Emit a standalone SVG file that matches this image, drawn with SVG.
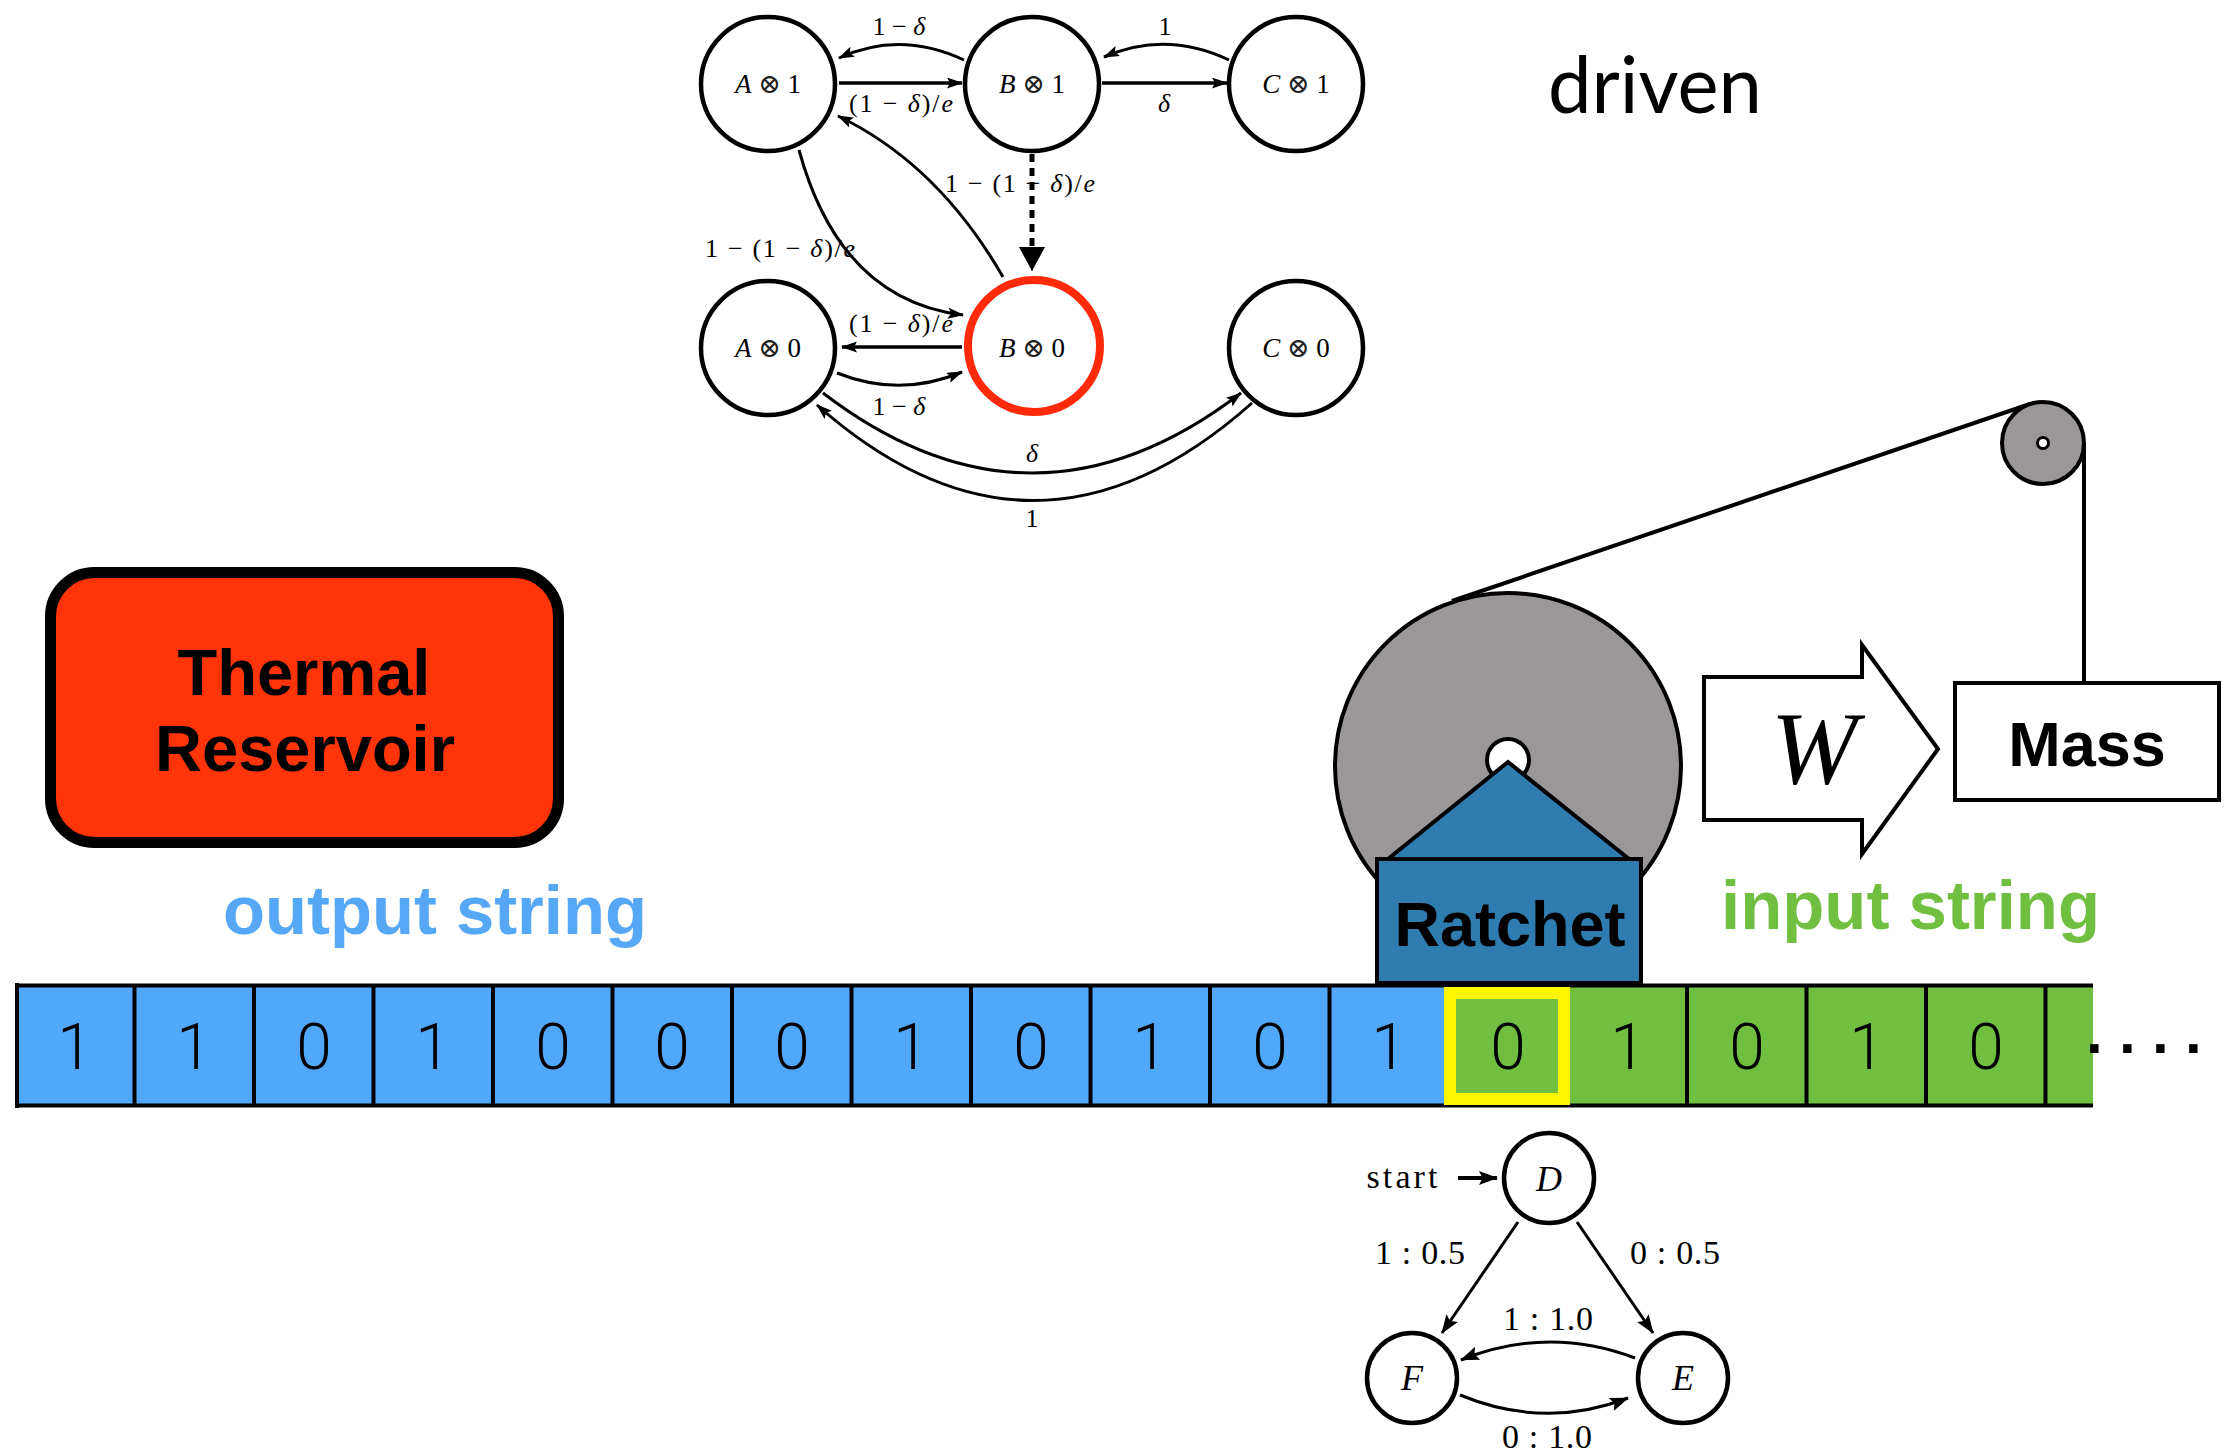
<svg xmlns="http://www.w3.org/2000/svg" width="2225" height="1451" viewBox="0 0 2225 1451">
  <defs>
    <style>
      .node { fill: #ffffff; stroke: #000000; stroke-width: 4.5; }
      .node-hot { fill: #ffffff; stroke: #ff2a0a; stroke-width: 8; }
      .math { font-family: "Liberation Serif", "DejaVu Serif", serif; fill: #000000; }
      .it { font-style: italic; }
      .otimes { font-family: "DejaVu Sans", "DejaVu Serif", sans-serif; font-weight: 200; fill: #222222; }
      .edge { fill: none; stroke: #000000; stroke-width: 3; }
      .edge-s { fill: none; stroke: #000000; stroke-width: 3.5; }
      .bold { font-family: "Liberation Sans", Arial, sans-serif; font-weight: bold; }
      .digit { font-family: Roboto, "Liberation Sans", sans-serif; font-weight: 300; font-size: 64px; fill: #000000; text-anchor: middle; }
      .cellline { stroke: #000000; stroke-width: 4; }
      .mech { stroke: #000000; stroke-width: 4; }
    </style>
    <marker id="tip" markerUnits="userSpaceOnUse" viewBox="0 0 16 11" refX="15" refY="5.5" markerWidth="16" markerHeight="11" orient="auto">
      <path d="M0,0 L16,5.5 L0,11 L3,5.5 z" fill="#000000"/>
    </marker>
    <marker id="tipbig" markerUnits="userSpaceOnUse" viewBox="0 0 24 26" refX="24" refY="13" markerWidth="24" markerHeight="26" orient="auto">
      <path d="M0,0 L24,13 L0,26 z" fill="#000000"/>
    </marker>
    <marker id="tipfsm" markerUnits="userSpaceOnUse" viewBox="0 0 19 14" refX="18" refY="7" markerWidth="19" markerHeight="14" orient="auto">
      <path d="M0,0 L19,7 L0,14 L3.5,7 z" fill="#000000"/>
    </marker>
  </defs>

  <rect x="0" y="0" width="2225" height="1451" fill="#ffffff"/>

  <!-- ratchet state machine: connectors -->
  <g id="ratchet-edges">
    <path class="edge" d="M964,60 Q900,30 839,58" marker-end="url(#tip)"/>
    <path class="edge-s" d="M839,83 L962,83" marker-end="url(#tip)"/>
    <path class="edge" d="M1229,60 Q1166,30 1104,57" marker-end="url(#tip)"/>
    <path class="edge-s" d="M1102,83 L1227,83" marker-end="url(#tip)"/>
    <path fill="none" stroke="#000000" stroke-width="5" stroke-dasharray="8 6" d="M1032,154 L1032,248"/>
    <path fill="none" stroke="#000000" stroke-width="1" d="M1032,247 L1032,271" marker-end="url(#tipbig)"/>
    <path class="edge" d="M1003,277 Q938,164 838,116" marker-end="url(#tip)"/>
    <path class="edge" d="M799,150 Q840,300 963,315" marker-end="url(#tip)"/>
    <path class="edge-s" d="M962,347 L842,347" marker-end="url(#tip)"/>
    <path class="edge" d="M837,373 Q900,398 962,372" marker-end="url(#tip)"/>
    <path class="edge" d="M823,393 Q1032,553 1241,393" marker-end="url(#tip)"/>
    <path class="edge" d="M1252,403 Q1034,597 817,405" marker-end="url(#tip)"/>
  </g>

  <!-- ratchet state machine: transition labels -->
  <g id="ratchet-edge-labels" class="math" font-size="26" text-anchor="middle">
    <text x="899" y="35">1 − <tspan class="it">δ</tspan></text>
    <text x="901" y="112" textLength="104" lengthAdjust="spacing">(1 − <tspan class="it">δ</tspan>)/<tspan class="it">e</tspan></text>
    <text x="1165" y="35">1</text>
    <text x="1164" y="112" class="it">δ</text>
    <text x="1020" y="192" textLength="150" lengthAdjust="spacing">1 − (1 − <tspan class="it">δ</tspan>)/<tspan class="it">e</tspan></text>
    <text x="780" y="257" textLength="150" lengthAdjust="spacing">1 − (1 − <tspan class="it">δ</tspan>)/<tspan class="it">e</tspan></text>
    <text x="901" y="332" textLength="104" lengthAdjust="spacing">(1 − <tspan class="it">δ</tspan>)/<tspan class="it">e</tspan></text>
    <text x="899" y="415">1 − <tspan class="it">δ</tspan></text>
    <text x="1032" y="462" class="it">δ</text>
    <text x="1032" y="527">1</text>
  </g>

  <!-- ratchet state machine: nodes -->
  <g id="node-A1">
    <circle class="node" cx="768" cy="84" r="67"/>
    <text class="math" x="768" y="93" font-size="27" text-anchor="middle"><tspan class="it">A</tspan> <tspan class="otimes">⊗</tspan> 1</text>
  </g>
  <g id="node-B1">
    <circle class="node" cx="1032" cy="84" r="67"/>
    <text class="math" x="1032" y="93" font-size="27" text-anchor="middle"><tspan class="it">B</tspan> <tspan class="otimes">⊗</tspan> 1</text>
  </g>
  <g id="node-C1">
    <circle class="node" cx="1296" cy="84" r="67"/>
    <text class="math" x="1296" y="93" font-size="27" text-anchor="middle"><tspan class="it">C</tspan> <tspan class="otimes">⊗</tspan> 1</text>
  </g>
  <g id="node-A0">
    <circle class="node" cx="768" cy="348" r="67"/>
    <text class="math" x="768" y="357" font-size="27" text-anchor="middle"><tspan class="it">A</tspan> <tspan class="otimes">⊗</tspan> 0</text>
  </g>
  <g id="node-B0">
    <circle class="node-hot" cx="1034" cy="346" r="66"/>
    <text class="math" x="1032" y="357" font-size="27" text-anchor="middle"><tspan class="it">B</tspan> <tspan class="otimes">⊗</tspan> 0</text>
  </g>
  <g id="node-C0">
    <circle class="node" cx="1296" cy="348" r="67"/>
    <text class="math" x="1296" y="357" font-size="27" text-anchor="middle"><tspan class="it">C</tspan> <tspan class="otimes">⊗</tspan> 0</text>
  </g>

  <text id="title" x="1548" y="113" font-family="Lato, 'Noto Sans', sans-serif" font-size="80" textLength="214" lengthAdjust="spacingAndGlyphs" fill="#000000">driven</text>

  <!-- heat bath -->
  <g id="thermal-reservoir">
    <rect x="50.5" y="572.5" width="508" height="270" rx="44" ry="44" fill="#ff3408" stroke="#000000" stroke-width="11"/>
    <text class="bold" x="304" y="695" font-size="65" text-anchor="middle">Thermal</text>
    <text class="bold" x="305" y="771" font-size="65" text-anchor="middle">Reservoir</text>
  </g>

  <text id="output-label" class="bold" x="223" y="934" font-size="69" fill="#56a8f7" textLength="424" lengthAdjust="spacingAndGlyphs">output string</text>
  <text id="input-label" class="bold" x="1721" y="929" font-size="69" fill="#70bf41" textLength="379" lengthAdjust="spacingAndGlyphs">input string</text>

  <!-- work arrow -->
  <g id="work">
    <path d="M1704,677 L1862,677 L1862,645 L1938,749 L1862,854 L1862,820 L1704,820 Z" fill="#ffffff" stroke="#000000" stroke-width="4"/>
    <text class="math it" x="1814" y="783" font-size="104" text-anchor="middle">W</text>
  </g>

  <!-- weight on the rope -->
  <g id="mass">
    <rect x="1955" y="683" width="264" height="117" fill="#ffffff" stroke="#000000" stroke-width="4"/>
    <text class="bold" x="2087" y="766" font-size="63" text-anchor="middle">Mass</text>
  </g>

  <!-- rope, pulley and wheel -->
  <g id="rope">
    <line class="mech" x1="1452" y1="601" x2="2030" y2="404"/>
    <line class="mech" x1="2084" y1="443" x2="2084" y2="683"/>
  </g>
  <g id="pulley">
    <circle cx="2043" cy="443" r="41" fill="#9b9698" stroke="#000000" stroke-width="4"/>
    <circle cx="2043" cy="443" r="5.5" fill="#ffffff" stroke="#000000" stroke-width="3"/>
  </g>
  <g id="wheel">
    <circle cx="1508" cy="766" r="173" fill="#9b9698" stroke="#000000" stroke-width="4"/>
    <circle cx="1508" cy="760" r="21" fill="#ffffff" stroke="#000000" stroke-width="4"/>
  </g>

  <!-- tape of symbols -->
  <g id="tape">
    <rect x="15" y="985" width="1434" height="121" fill="#51a7f9"/>
    <rect x="1449" y="985" width="644" height="121" fill="#70bf41"/>
    <line class="cellline" x1="15" y1="985.5" x2="2093" y2="985.5" stroke-width="5"/>
    <line class="cellline" x1="15" y1="1105.5" x2="2093" y2="1105.5" stroke-width="5"/>
    <line class="cellline" x1="17" y1="983" x2="17" y2="1108"/>
    <line class="cellline" x1="134.5" y1="985" x2="134.5" y2="1106"/>
    <line class="cellline" x1="254" y1="985" x2="254" y2="1106"/>
    <line class="cellline" x1="373.5" y1="985" x2="373.5" y2="1106"/>
    <line class="cellline" x1="493" y1="985" x2="493" y2="1106"/>
    <line class="cellline" x1="612.5" y1="985" x2="612.5" y2="1106"/>
    <line class="cellline" x1="732" y1="985" x2="732" y2="1106"/>
    <line class="cellline" x1="851.5" y1="985" x2="851.5" y2="1106"/>
    <line class="cellline" x1="971" y1="985" x2="971" y2="1106"/>
    <line class="cellline" x1="1090.5" y1="985" x2="1090.5" y2="1106"/>
    <line class="cellline" x1="1210" y1="985" x2="1210" y2="1106"/>
    <line class="cellline" x1="1329.5" y1="985" x2="1329.5" y2="1106"/>
    <line class="cellline" x1="1687" y1="985" x2="1687" y2="1106"/>
    <line class="cellline" x1="1806.5" y1="985" x2="1806.5" y2="1106"/>
    <line class="cellline" x1="1926" y1="985" x2="1926" y2="1106"/>
    <line class="cellline" x1="2045.5" y1="985" x2="2045.5" y2="1106"/>
    <rect x="1450" y="993" width="114" height="106" fill="none" stroke="#fff500" stroke-width="12"/>
    <text class="digit" x="75" y="1069">1</text>
    <text class="digit" x="194" y="1069">1</text>
    <text class="digit" x="314" y="1069">0</text>
    <text class="digit" x="433" y="1069">1</text>
    <text class="digit" x="553" y="1069">0</text>
    <text class="digit" x="672" y="1069">0</text>
    <text class="digit" x="792" y="1069">0</text>
    <text class="digit" x="911" y="1069">1</text>
    <text class="digit" x="1031" y="1069">0</text>
    <text class="digit" x="1150" y="1069">1</text>
    <text class="digit" x="1270" y="1069">0</text>
    <text class="digit" x="1389" y="1069">1</text>
    <text class="digit" x="1508" y="1069">0</text>
    <text class="digit" x="1628" y="1069">1</text>
    <text class="digit" x="1747" y="1069">0</text>
    <text class="digit" x="1867" y="1069">1</text>
    <text class="digit" x="1986" y="1069">0</text>
    <text x="2086" y="1068" font-family="'Liberation Sans', sans-serif" font-weight="bold" font-size="60" letter-spacing="13" fill="#000000">····</text>
  </g>

  <!-- ratchet housing -->
  <g id="ratchet">
    <polygon points="1388,859 1508,762 1629,859" fill="#2e7cb0" stroke="#000000" stroke-width="4" stroke-linejoin="miter"/>
    <rect x="1377" y="859" width="264" height="124" fill="#2e7cb0" stroke="#000000" stroke-width="4"/>
    <text class="bold" x="1510" y="946" font-size="63" text-anchor="middle">Ratchet</text>
  </g>

  <!-- input process machine: connectors -->
  <g id="process-edges">
    <path fill="none" stroke="#000000" stroke-width="4" d="M1458,1178 L1497,1178" marker-end="url(#tipfsm)"/>
    <path class="edge" d="M1518,1222 L1442,1333" marker-end="url(#tipfsm)"/>
    <path class="edge" d="M1577,1222 L1653,1333" marker-end="url(#tipfsm)"/>
    <path class="edge" d="M1635,1358 Q1548,1325 1461,1360" marker-end="url(#tipfsm)"/>
    <path class="edge" d="M1460,1395 Q1545,1430 1628,1398" marker-end="url(#tipfsm)"/>
  </g>
  <g id="process-labels" class="math" font-size="34" text-anchor="middle">
    <text x="1402" y="1188" textLength="71" lengthAdjust="spacing">start</text>
    <text x="1420" y="1264" textLength="90" lengthAdjust="spacing">1 : 0.5</text>
    <text x="1675" y="1264" textLength="90" lengthAdjust="spacing">0 : 0.5</text>
    <text x="1548" y="1330" textLength="90" lengthAdjust="spacing">1 : 1.0</text>
    <text x="1547" y="1448" textLength="90" lengthAdjust="spacing">0 : 1.0</text>
  </g>

  <!-- input process machine: nodes -->
  <g id="node-D">
    <circle class="node" cx="1549" cy="1178" r="45" stroke-width="5"/>
    <text class="math it" x="1549" y="1191" font-size="36" text-anchor="middle">D</text>
  </g>
  <g id="node-F">
    <circle class="node" cx="1412" cy="1378" r="45" stroke-width="5"/>
    <text class="math it" x="1412" y="1390" font-size="36" text-anchor="middle">F</text>
  </g>
  <g id="node-E">
    <circle class="node" cx="1683" cy="1378" r="45" stroke-width="5"/>
    <text class="math it" x="1683" y="1390" font-size="36" text-anchor="middle">E</text>
  </g>
</svg>
